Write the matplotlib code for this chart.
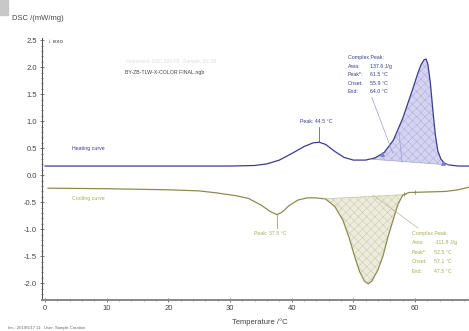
import numpy as np
import matplotlib
matplotlib.use('Agg')
import matplotlib.pyplot as plt
from matplotlib.ticker import MultipleLocator

plt.rcParams['font.family'] = ['Liberation Sans', 'DejaVu Sans']
plt.rcParams['hatch.linewidth'] = 0.3

# heating run, DSC signal vs temperature
heat_t = [0, 10, 20, 30, 34, 36, 38, 40, 42, 43.5, 44.5, 45.5, 47, 48.5, 50, 52,
          53.5, 55, 56.5, 58, 59.5, 60.5, 61.0, 61.5, 61.8, 62.1, 62.5, 62.9,
          63.3, 63.7, 64.2, 64.8, 65.5, 67, 68.8]
heat_v = [0.17, 0.17, 0.17, 0.17, 0.18, 0.21, 0.28, 0.40, 0.53, 0.60, 0.61, 0.57,
          0.44, 0.33, 0.28, 0.28, 0.32, 0.42, 0.65, 1.05, 1.55, 1.90, 2.05, 2.14,
          2.15, 2.05, 1.70, 1.20, 0.75, 0.45, 0.30, 0.22, 0.19, 0.17, 0.17]

# cooling run
cool_t = [0.5, 10, 20, 25, 28, 31, 33, 35, 36.5, 37.6, 38.5, 39.5, 41, 42.5, 44,
          45.5, 47, 48.3, 49.3, 50.2, 51, 51.8, 52.4, 53, 54, 54.8, 55.6, 56.4,
          57.2, 58, 59, 62, 65, 67, 68.8]
cool_v = [-0.24, -0.25, -0.27, -0.29, -0.33, -0.38, -0.43, -0.55, -0.67, -0.73,
          -0.68, -0.57, -0.46, -0.42, -0.42, -0.44, -0.58, -0.83, -1.15, -1.50,
          -1.78, -1.96, -2.01, -1.96, -1.75, -1.50, -1.15, -0.85, -0.55, -0.37,
          -0.32, -0.31, -0.30, -0.27, -0.22]

# integration limits of the complex peaks
heat_lim = (52.7, 65.5)
cool_lim = (45.3, 58.2)

heat_peak1 = 44.5
cool_peak1 = 37.6

heat_info = [('Area:', '137.6 J/g'), ('Peak*:', '61.5 °C'), ('Onset:', '55.9 °C'), ('End:', '64.0 °C')]
cool_info = [('Area:', '-111.8 J/g'), ('Peak*:', '52.5 °C'), ('Onset:', '57.1 °C'), ('End:', '47.5 °C')]

heat_col = '#3c3c8e'
cool_col = '#8c8c52'
cool_txt = '#a8b050'

fig = plt.figure(figsize=(4.69, 3.31), dpi=100)
ax = fig.add_axes([42 / 469, 1 - 300 / 331, 1 - 42 / 469, 262 / 331])

ht = np.array(heat_t)
hv = np.array(heat_v)
ct = np.array(cool_t)
cv = np.array(cool_v)

ax.plot(ht, hv, color=heat_col, lw=0.9)
ax.plot(ct, cv, color=cool_col, lw=0.9)

# shaded areas between curve and straight integration baseline
def peak_fill(t, v, lim, face, edge):
    xs = np.linspace(lim[0], lim[1], 200)
    ys = np.interp(xs, t, v)
    y0, y1 = np.interp(lim[0], t, v), np.interp(lim[1], t, v)
    base = y0 + (y1 - y0) * (xs - lim[0]) / (lim[1] - lim[0])
    ax.fill_between(xs, ys, base, facecolor=face, edgecolor=edge, hatch='xxxx', lw=0)
    ax.plot([lim[0], lim[1]], [y0, y1], color=edge, lw=0.5)
    return y0, y1

peak_fill(ht, hv, heat_lim, '#d4d4f0', '#a4a4da')
peak_fill(ct, cv, cool_lim, '#ecebdc', '#c4c4a0')

# onset tangent line and markers on the heating peak
ax.plot([57.4, 57.9], [0.80, 0.24], color='#9a9ad2', lw=0.5)
ax.plot([54.6, 64.6], [0.40, 0.22], ls='none', marker='^', ms=2.5, color='#8080c8')
ax.plot([58.2, 60.0], [-0.34, -0.32], ls='none', marker='+', ms=3, color=cool_col, mew=0.6)

# single peak labels
hp = np.interp(heat_peak1, ht, hv)
ax.plot([heat_peak1, heat_peak1], [hp, 0.9], color=heat_col, lw=0.5)
ax.text(heat_peak1 - 0.5, 1.0, 'Peak: %.1f °C' % heat_peak1, fontsize=3.8,
        color=heat_col, ha='center', va='center')
cp = np.interp(cool_peak1, ct, cv)
ax.plot([cool_peak1, cool_peak1], [cp, -0.97], color=cool_col, lw=0.5)
ax.text(cool_peak1 - 1.0, -1.08, 'Peak: 37.5 °C', fontsize=3.8,
        color=cool_txt, ha='center', va='center')

# complex peak boxes
def info_box(x, y, rows, col, dy):
    ax.text(x, y, 'Complex Peak:', fontsize=3.8, color=col, va='center')
    for i, (k, v) in enumerate(rows):
        ax.text(x, y - dy * (i + 1), k, fontsize=3.8, color=col, va='center')
        ax.text(x + 3.6, y - dy * (i + 1), v, fontsize=3.8, color=col, va='center')

info_box(49.1, 2.17, heat_info, heat_col, 0.157)
ax.plot([53.0, 56.4], [1.44, 0.41], color='#9a9ad2', lw=0.5)
info_box(59.5, -1.07, cool_info, cool_txt, 0.178)
ax.plot([53.2, 60.5], [-0.37, -0.98], color='#b8b890', lw=0.5)

ax.text(4.4, 0.5, 'Heating curve', fontsize=3.8, color=heat_col, va='center')
ax.text(4.4, -0.43, 'Cooling curve', fontsize=3.8, color=cool_txt, va='center')
ax.text(13.0, 1.91, 'BY-ZB-TLW-X-COLOR FINAL.ngb', fontsize=3.8, color='#444444', va='center')
ax.text(13.2, 2.10, 'Instrument: DSC 200 F3   Sample: BY-ZB', fontsize=3.5,
        color='#dddddd', va='center')

ax.set_xlim(-0.49, 68.76)
ax.set_ylim(-2.31, 2.54)
for s in ('top', 'right'):
    ax.spines[s].set_visible(False)
ax.spines['left'].set_color('#555555')
ax.spines['left'].set_linewidth(0.8)
ax.spines['bottom'].set_color('#888888')
ax.spines['bottom'].set_linewidth(1.4)

ax.xaxis.set_major_locator(MultipleLocator(10))
ax.xaxis.set_minor_locator(MultipleLocator(2))
ax.yaxis.set_major_locator(MultipleLocator(0.5))
ax.yaxis.set_minor_locator(MultipleLocator(0.1))
ax.tick_params(which='both', direction='inout', colors='#666666', labelsize=5.5,
               labelcolor='#444444', pad=2)
ax.tick_params(which='major', length=3, width=0.6)
ax.tick_params(which='minor', length=1.5, width=0.5)
ax.set_xticks(np.arange(0, 61, 10))
ax.set_xticklabels([str(v) for v in range(0, 61, 10)])
ax.set_yticks(np.arange(-2.0, 2.51, 0.5))
ax.set_yticklabels(['%.1f' % v for v in np.arange(-2.0, 2.51, 0.5)])

fig.text(260 / 469, 1 - 322 / 331, 'Temperature /°C', fontsize=5.5, color='#444444',
         ha='center', va='center')
fig.text(12 / 469, 1 - 18 / 331, 'DSC /(mW/mg)', fontsize=5.5, color='#444444', va='center')
ax.text(0.5, 2.48, '↓ exo', fontsize=4.5, color='#444444', va='center')
fig.text(8 / 469, 1 - 328 / 331, 'Ins.: 2019/5/17 11:  User: Sample Creation',
         fontsize=3, color='#666666', va='center')
fig.patches.append(plt.Rectangle((0, 1 - 15 / 331), 8 / 469, 15 / 331,
                                 transform=fig.transFigure, color='#c8c8c8'))

fig.savefig('out.png', dpi=100)
